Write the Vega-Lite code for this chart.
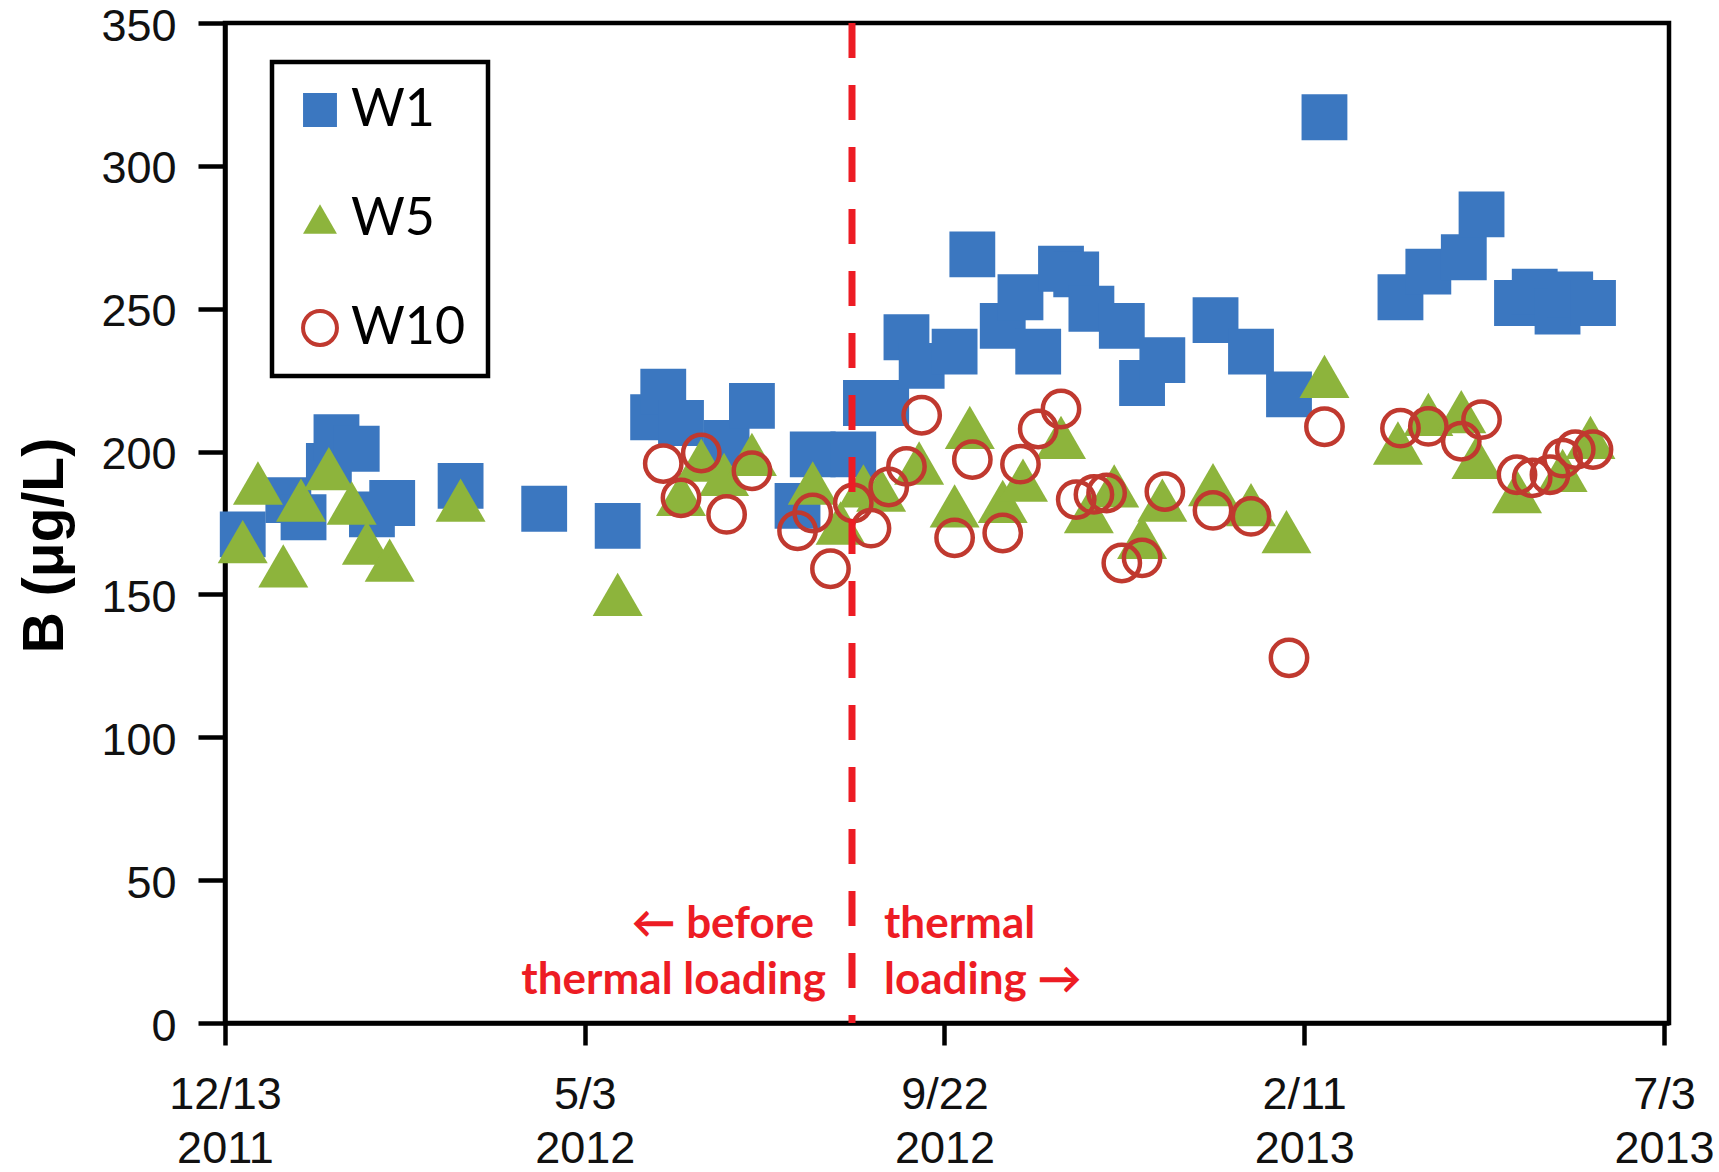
{
  "$schema": "https://vega.github.io/schema/vega-lite/v6.json",
  "width": 1444,
  "height": 1000,
  "autosize": {"type": "none"},
  "padding": {"left": 225, "top": 23, "right": 50, "bottom": 149},
  "background": "white",
  "config": {
    "view": {"stroke": "black", "strokeWidth": 4.5},
    "axis": {
      "domainColor": "black",
      "domainWidth": 4.5,
      "tickColor": "black",
      "tickWidth": 4.5,
      "grid": false,
      "labelFont": "Liberation Sans",
      "labelFontSize": 45,
      "labelColor": "#111111",
      "labelOverlap": false,
      "labelBound": false,
      "labelFlush": false
    },
    "legend": {
      "orient": "none",
      "legendX": 47,
      "legendY": 39,
      "direction": "vertical",
      "fillColor": "white",
      "strokeColor": "black",
      "strokeWidth": 4.5,
      "padding": 22,
      "rowPadding": 57,
      "symbolSize": 1150,
      "symbolStrokeWidth": 4,
      "labelFont": "Lato",
      "labelFontSize": 52,
      "labelColor": "black",
      "labelOffset": 5
    }
  },
  "datasets": {
    "samples": [
      {"well": "W1", "date": "2011-12-20", "value": 171},
      {"well": "W1", "date": "2012-01-07", "value": 183},
      {"well": "W1", "date": "2012-01-13", "value": 177},
      {"well": "W1", "date": "2012-01-23", "value": 195},
      {"well": "W1", "date": "2012-01-26", "value": 205},
      {"well": "W1", "date": "2012-02-03", "value": 201},
      {"well": "W1", "date": "2012-02-09", "value": 178},
      {"well": "W1", "date": "2012-02-17", "value": 182},
      {"well": "W1", "date": "2012-03-15", "value": 188},
      {"well": "W1", "date": "2012-04-17", "value": 180},
      {"well": "W1", "date": "2012-05-16", "value": 174},
      {"well": "W1", "date": "2012-05-30", "value": 212},
      {"well": "W1", "date": "2012-06-03", "value": 221},
      {"well": "W1", "date": "2012-06-10", "value": 210},
      {"well": "W1", "date": "2012-06-28", "value": 203},
      {"well": "W1", "date": "2012-07-08", "value": 216},
      {"well": "W1", "date": "2012-07-26", "value": 181},
      {"well": "W1", "date": "2012-08-01", "value": 199},
      {"well": "W1", "date": "2012-08-17", "value": 199},
      {"well": "W1", "date": "2012-08-22", "value": 217},
      {"well": "W1", "date": "2012-08-30", "value": 217},
      {"well": "W1", "date": "2012-09-07", "value": 240},
      {"well": "W1", "date": "2012-09-13", "value": 230},
      {"well": "W1", "date": "2012-09-26", "value": 235},
      {"well": "W1", "date": "2012-10-03", "value": 269},
      {"well": "W1", "date": "2012-10-15", "value": 244},
      {"well": "W1", "date": "2012-10-22", "value": 254},
      {"well": "W1", "date": "2012-10-29", "value": 235},
      {"well": "W1", "date": "2012-11-07", "value": 264},
      {"well": "W1", "date": "2012-11-13", "value": 262},
      {"well": "W1", "date": "2012-11-19", "value": 250},
      {"well": "W1", "date": "2012-12-01", "value": 244},
      {"well": "W1", "date": "2012-12-09", "value": 224},
      {"well": "W1", "date": "2012-12-17", "value": 232},
      {"well": "W1", "date": "2013-01-07", "value": 246},
      {"well": "W1", "date": "2013-01-21", "value": 235},
      {"well": "W1", "date": "2013-02-05", "value": 220},
      {"well": "W1", "date": "2013-02-19", "value": 317},
      {"well": "W1", "date": "2013-03-21", "value": 254},
      {"well": "W1", "date": "2013-04-01", "value": 263},
      {"well": "W1", "date": "2013-04-15", "value": 268},
      {"well": "W1", "date": "2013-04-22", "value": 283},
      {"well": "W1", "date": "2013-05-06", "value": 252},
      {"well": "W1", "date": "2013-05-13", "value": 256},
      {"well": "W1", "date": "2013-05-22", "value": 249},
      {"well": "W1", "date": "2013-05-27", "value": 255},
      {"well": "W1", "date": "2013-06-05", "value": 252},
      {"well": "W5", "date": "2011-12-20", "value": 168.5},
      {"well": "W5", "date": "2011-12-26", "value": 189},
      {"well": "W5", "date": "2012-01-05", "value": 160},
      {"well": "W5", "date": "2012-01-12", "value": 183},
      {"well": "W5", "date": "2012-01-23", "value": 194},
      {"well": "W5", "date": "2012-02-01", "value": 182},
      {"well": "W5", "date": "2012-02-07", "value": 168},
      {"well": "W5", "date": "2012-02-16", "value": 162},
      {"well": "W5", "date": "2012-03-15", "value": 183},
      {"well": "W5", "date": "2012-05-16", "value": 150},
      {"well": "W5", "date": "2012-06-10", "value": 185},
      {"well": "W5", "date": "2012-06-18", "value": 197},
      {"well": "W5", "date": "2012-06-27", "value": 192},
      {"well": "W5", "date": "2012-07-08", "value": 199},
      {"well": "W5", "date": "2012-08-01", "value": 189},
      {"well": "W5", "date": "2012-08-12", "value": 175},
      {"well": "W5", "date": "2012-08-21", "value": 188},
      {"well": "W5", "date": "2012-08-28", "value": 186.5},
      {"well": "W5", "date": "2012-09-12", "value": 196},
      {"well": "W5", "date": "2012-09-26", "value": 181},
      {"well": "W5", "date": "2012-10-02", "value": 208.5},
      {"well": "W5", "date": "2012-10-15", "value": 182.6},
      {"well": "W5", "date": "2012-10-23", "value": 190},
      {"well": "W5", "date": "2012-11-07", "value": 205},
      {"well": "W5", "date": "2012-11-18", "value": 179},
      {"well": "W5", "date": "2012-11-28", "value": 188},
      {"well": "W5", "date": "2012-12-09", "value": 170},
      {"well": "W5", "date": "2012-12-17", "value": 183},
      {"well": "W5", "date": "2013-01-06", "value": 188.4},
      {"well": "W5", "date": "2013-01-21", "value": 181.4},
      {"well": "W5", "date": "2013-02-04", "value": 172},
      {"well": "W5", "date": "2013-02-19", "value": 226.3},
      {"well": "W5", "date": "2013-03-20", "value": 203},
      {"well": "W5", "date": "2013-04-01", "value": 213},
      {"well": "W5", "date": "2013-04-14", "value": 214},
      {"well": "W5", "date": "2013-04-20", "value": 198},
      {"well": "W5", "date": "2013-05-06", "value": 186},
      {"well": "W5", "date": "2013-05-24", "value": 193.4},
      {"well": "W5", "date": "2013-06-04", "value": 205},
      {"well": "W10", "date": "2012-06-03", "value": 195.8},
      {"well": "W10", "date": "2012-06-10", "value": 183.8},
      {"well": "W10", "date": "2012-06-18", "value": 199.5},
      {"well": "W10", "date": "2012-06-28", "value": 178},
      {"well": "W10", "date": "2012-07-08", "value": 193.3},
      {"well": "W10", "date": "2012-07-26", "value": 172.3},
      {"well": "W10", "date": "2012-08-01", "value": 178.5},
      {"well": "W10", "date": "2012-08-08", "value": 159},
      {"well": "W10", "date": "2012-08-17", "value": 182},
      {"well": "W10", "date": "2012-08-24", "value": 173.2},
      {"well": "W10", "date": "2012-08-31", "value": 187.6},
      {"well": "W10", "date": "2012-09-07", "value": 194.8},
      {"well": "W10", "date": "2012-09-13", "value": 212.7},
      {"well": "W10", "date": "2012-09-26", "value": 169.8},
      {"well": "W10", "date": "2012-10-03", "value": 197.2},
      {"well": "W10", "date": "2012-10-15", "value": 171.5},
      {"well": "W10", "date": "2012-10-22", "value": 195.6},
      {"well": "W10", "date": "2012-10-29", "value": 207.9},
      {"well": "W10", "date": "2012-11-07", "value": 214.9},
      {"well": "W10", "date": "2012-11-13", "value": 183.2},
      {"well": "W10", "date": "2012-11-20", "value": 185},
      {"well": "W10", "date": "2012-11-25", "value": 185.5},
      {"well": "W10", "date": "2012-12-01", "value": 161},
      {"well": "W10", "date": "2012-12-09", "value": 162.8},
      {"well": "W10", "date": "2012-12-18", "value": 186},
      {"well": "W10", "date": "2013-01-06", "value": 179.4},
      {"well": "W10", "date": "2013-01-21", "value": 177.3},
      {"well": "W10", "date": "2013-02-05", "value": 127.8},
      {"well": "W10", "date": "2013-02-19", "value": 208.7},
      {"well": "W10", "date": "2013-03-21", "value": 208.2},
      {"well": "W10", "date": "2013-04-01", "value": 208.8},
      {"well": "W10", "date": "2013-04-14", "value": 203.6},
      {"well": "W10", "date": "2013-04-22", "value": 211.2},
      {"well": "W10", "date": "2013-05-06", "value": 191.9},
      {"well": "W10", "date": "2013-05-12", "value": 190.8},
      {"well": "W10", "date": "2013-05-19", "value": 191.9},
      {"well": "W10", "date": "2013-05-24", "value": 197.7},
      {"well": "W10", "date": "2013-05-29", "value": 200.7},
      {"well": "W10", "date": "2013-06-05", "value": 200.7}
    ],
    "phases": [
      {"date": "2012-08-16T12:00:00Z"}
    ],
    "notes": [
      {"date": "2012-08-16T12:00:00Z", "value": 29.7, "note": "← before", "part": "before-top"},
      {"date": "2012-08-16T12:00:00Z", "value": 10.3, "note": "thermal loading", "part": "before-bottom"},
      {"date": "2012-08-16T12:00:00Z", "value": 29.7, "note": "thermal", "part": "after"},
      {"date": "2012-08-16T12:00:00Z", "value": 10.3, "note": "loading →", "part": "after"}
    ]
  },
  "layer": [
    {
      "data": {"name": "samples"},
      "transform": [{"filter": "datum.well === 'W1'"}],
      "mark": {"type": "point", "size": 2100, "opacity": 1, "strokeWidth": 4.5},
      "encoding": {
        "x": {
          "field": "date",
          "type": "temporal",
          "title": null,
          "scale": {
            "type": "utc",
            "domain": [
              {"year": 2011, "month": 12, "date": 13, "utc": true},
              {"year": 2013, "month": 7, "date": 5, "utc": true}
            ]
          },
          "axis": {
            "values": [
              {"year": 2011, "month": 12, "date": 13, "utc": true},
              {"year": 2012, "month": 5, "date": 3, "utc": true},
              {"year": 2012, "month": 9, "date": 22, "utc": true},
              {"year": 2013, "month": 2, "date": 11, "utc": true},
              {"year": 2013, "month": 7, "date": 3, "utc": true}
            ],
            "labelExpr": "[utcFormat(datum.value, '%-m/%-d'), utcFormat(datum.value, '%Y')]",
            "labelLineHeight": 54,
            "tickSize": 22,
            "labelPadding": 27
          }
        },
        "y": {
          "field": "value",
          "type": "quantitative",
          "title": "B (μg/L)",
          "scale": {"domain": [0, 350], "nice": false},
          "axis": {
            "values": [0, 50, 100, 150, 200, 250, 300, 350],
            "tickSize": 27,
            "labelPadding": 22,
            "labelOffset": 3,
            "titleFont": "Liberation Sans",
            "titleFontWeight": "bold",
            "titleFontSize": 57,
            "titleColor": "black",
            "titleAngle": -90,
            "titleAlign": "center",
            "titleBaseline": "middle",
            "titleX": -180,
            "titleY": 522
          }
        },
        "shape": {"field": "well", "type": "nominal", "title": null, "scale": {"domain": ["W1", "W5", "W10"], "range": ["square", "triangle-up", "circle"]}},
        "fill": {"field": "well", "type": "nominal", "title": null, "scale": {"domain": ["W1", "W5", "W10"], "range": ["#3b77c0", "#8db43c", "transparent"]}},
        "stroke": {"field": "well", "type": "nominal", "title": null, "scale": {"domain": ["W1", "W5", "W10"], "range": ["transparent", "transparent", "#c0392f"]}}
      }
    },
    {
      "data": {"name": "samples"},
      "transform": [{"filter": "datum.well === 'W5'"}],
      "mark": {"type": "point", "size": 2500, "opacity": 1, "strokeWidth": 4.5},
      "encoding": {
        "x": {"field": "date", "type": "temporal", "title": null},
        "y": {"field": "value", "type": "quantitative", "title": "B (μg/L)"},
        "shape": {"field": "well", "type": "nominal", "title": null},
        "fill": {"field": "well", "type": "nominal", "title": null},
        "stroke": {"field": "well", "type": "nominal", "title": null}
      }
    },
    {
      "data": {"name": "samples"},
      "transform": [{"filter": "datum.well === 'W10'"}],
      "mark": {"type": "point", "size": 1320, "opacity": 1, "strokeWidth": 4.5},
      "encoding": {
        "x": {"field": "date", "type": "temporal", "title": null},
        "y": {"field": "value", "type": "quantitative", "title": "B (μg/L)"},
        "shape": {"field": "well", "type": "nominal", "title": null},
        "fill": {"field": "well", "type": "nominal", "title": null},
        "stroke": {"field": "well", "type": "nominal", "title": null}
      }
    },
    {
      "data": {"name": "phases"},
      "mark": {"type": "rule", "stroke": "#ed1c24", "strokeWidth": 7, "strokeDash": [35, 27]},
      "encoding": {
        "x": {"field": "date", "type": "temporal", "title": null}
      }
    },
    {
      "data": {"name": "notes"},
      "transform": [{"filter": "datum.part === 'before-top'"}],
      "mark": {"type": "text", "align": "right", "baseline": "alphabetic", "dx": -38, "font": "Lato", "fontWeight": "bold", "fontSize": 44, "color": "#ed1c24"},
      "encoding": {
        "x": {"field": "date", "type": "temporal", "title": null},
        "y": {"field": "value", "type": "quantitative", "title": "B (μg/L)"},
        "text": {"field": "note"}
      }
    },
    {
      "data": {"name": "notes"},
      "transform": [{"filter": "datum.part === 'before-bottom'"}],
      "mark": {"type": "text", "align": "right", "baseline": "alphabetic", "dx": -26, "font": "Lato", "fontWeight": "bold", "fontSize": 44, "color": "#ed1c24"},
      "encoding": {
        "x": {"field": "date", "type": "temporal", "title": null},
        "y": {"field": "value", "type": "quantitative", "title": "B (μg/L)"},
        "text": {"field": "note"}
      }
    },
    {
      "data": {"name": "notes"},
      "transform": [{"filter": "datum.part === 'after'"}],
      "mark": {"type": "text", "align": "left", "baseline": "alphabetic", "dx": 32, "font": "Lato", "fontWeight": "bold", "fontSize": 44, "color": "#ed1c24"},
      "encoding": {
        "x": {"field": "date", "type": "temporal", "title": null},
        "y": {"field": "value", "type": "quantitative", "title": "B (μg/L)"},
        "text": {"field": "note"}
      }
    }
  ]
}
